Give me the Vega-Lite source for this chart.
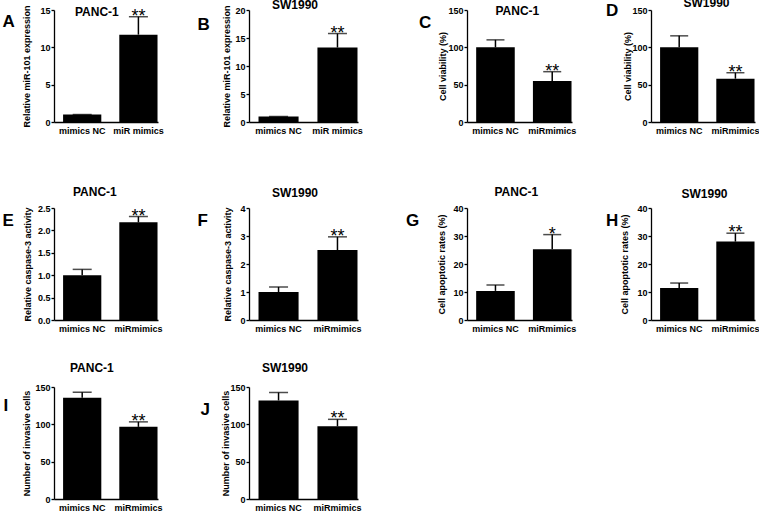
{
  "$schema": "https://vega.github.io/schema/vega-lite/v6.json",
  "background": "white",
  "padding": {"left": 2, "top": -3, "right": 0, "bottom": 0},
  "config": {
    "view": {"stroke": null},
    "font": "Liberation Sans",
    "axis": {"grid": false, "labelOverlap": false, "domainColor": "black", "tickColor": "black", "labelColor": "black", "titleColor": "black", "labelFont": "Liberation Sans", "titleFont": "Liberation Sans", "labelFontWeight": "bold", "labelFontSize": 9, "titleFontWeight": "bold", "titleFontSize": 9, "domainWidth": 1.3, "tickWidth": 1.3},
    "axisX": {"ticks": false, "labelPadding": 4, "labelAngle": 0, "titleAlign": "left", "titleBaseline": "middle", "titleFontSize": 17, "titleAngle": 0},
    "axisY": {"tickSize": 3, "labelPadding": 1, "titleBaseline": "middle", "titleAlign": "center", "labelFlush": false},
    "title": {"anchor": "start", "baseline": "alphabetic", "fontSize": 12, "font": "Liberation Sans", "fontWeight": "bold", "color": "black", "frame": "group"}
  },
  "columns": 4,
  "spacing": {"row": 67, "column": 79},
  "bounds": "flush",
  "align": "each",
  "concat": [
    {
      "width": 116, "height": 112,
      "title": {"text": "PANC-1", "dx": 21, "offset": -14},
      "data": {"values": [{"g": "mimics NC", "v": 1, "e": 1, "s": ""}, {"g": "miR mimics", "v": 11.7, "e": 14.1, "s": "**"}]},
      "encoding": {"x": {"field": "g", "type": "nominal", "sort": null, "scale": {"range": [0, 104], "paddingInner": 0.32, "paddingOuter": 0.085, "align": 0.95}, "axis": {"title": "A", "titleX": -52, "titleY": -101}}},
      "layer": [
        {"mark": {"type": "bar", "color": "black"}, "encoding": {"y": {"field": "v", "type": "quantitative", "scale": {"domain": [0, 15], "nice": false}, "axis": {"values": [0, 5, 10, 15], "format": "d", "tickCount": 20, "labelOverlap": false, "title": "Relative miR-101 expression", "titleX": -28, "titleY": 56}}}},
        {"mark": {"type": "rule", "strokeWidth": 1.5, "color": "black"}, "encoding": {"y": {"field": "v", "type": "quantitative"}, "y2": {"field": "e"}}},
        {"mark": {"type": "tick", "size": 19, "thickness": 1.5, "color": "black"}, "encoding": {"y": {"field": "e", "type": "quantitative"}}},
        {"mark": {"type": "text", "dy": 5, "baseline": "alphabetic", "fontSize": 18, "color": "black"}, "encoding": {"y": {"field": "e", "type": "quantitative"}, "text": {"field": "s"}}}
      ]
    },
    {
      "width": 138.5, "height": 112,
      "title": {"text": "SW1990", "dx": 23, "offset": -7},
      "data": {"values": [{"g": "mimics NC", "v": 1, "e": 1, "s": ""}, {"g": "miR mimics", "v": 13.3, "e": 15.8, "s": "**"}]},
      "encoding": {"x": {"field": "g", "type": "nominal", "sort": null, "scale": {"range": [0, 109], "paddingInner": 0.32, "paddingOuter": 0.085, "align": 0.95}, "axis": {"title": "B", "titleX": -52, "titleY": -97.5}}},
      "layer": [
        {"mark": {"type": "bar", "color": "black"}, "encoding": {"y": {"field": "v", "type": "quantitative", "scale": {"domain": [0, 20], "nice": false}, "axis": {"values": [0, 5, 10, 15, 20], "format": "d", "tickCount": 20, "labelOverlap": false, "title": "Relative miR-101 expression", "titleX": -23, "titleY": 56}}}},
        {"mark": {"type": "rule", "strokeWidth": 1.5, "color": "black"}, "encoding": {"y": {"field": "v", "type": "quantitative"}, "y2": {"field": "e"}}},
        {"mark": {"type": "tick", "size": 19, "thickness": 1.5, "color": "black"}, "encoding": {"y": {"field": "e", "type": "quantitative"}}},
        {"mark": {"type": "text", "dy": 5, "baseline": "alphabetic", "fontSize": 18, "color": "black"}, "encoding": {"y": {"field": "e", "type": "quantitative"}, "text": {"field": "s"}}}
      ]
    },
    {
      "width": 105, "height": 112,
      "title": {"text": "PANC-1", "dx": 28.5, "offset": -11.5},
      "data": {"values": [{"g": "mimics NC", "v": 100, "e": 110, "s": ""}, {"g": "miRmimics", "v": 55, "e": 67.4, "s": "**"}]},
      "encoding": {"x": {"field": "g", "type": "nominal", "sort": null, "scale": {"range": [0, 105], "paddingInner": 0.32, "paddingOuter": 0.085, "align": 0.95}, "axis": {"title": "C", "titleX": -48.5, "titleY": -99.5}}},
      "layer": [
        {"mark": {"type": "bar", "color": "black"}, "encoding": {"y": {"field": "v", "type": "quantitative", "scale": {"domain": [0, 150], "nice": false}, "axis": {"values": [0, 50, 100, 150], "format": "d", "tickCount": 20, "labelOverlap": false, "title": "Cell viability (%)", "titleX": -25, "titleY": 56}}}},
        {"mark": {"type": "rule", "strokeWidth": 1.5, "color": "black"}, "encoding": {"y": {"field": "v", "type": "quantitative"}, "y2": {"field": "e"}}},
        {"mark": {"type": "tick", "size": 18, "thickness": 1.5, "color": "black"}, "encoding": {"y": {"field": "e", "type": "quantitative"}}},
        {"mark": {"type": "text", "dy": 5, "baseline": "alphabetic", "fontSize": 18, "color": "black"}, "encoding": {"y": {"field": "e", "type": "quantitative"}, "text": {"field": "s"}}}
      ]
    },
    {
      "width": 105, "height": 112,
      "title": {"text": "SW1990", "dx": 32.5, "offset": -8.5},
      "data": {"values": [{"g": "mimics NC", "v": 100, "e": 115.4, "s": ""}, {"g": "miRmimics", "v": 58, "e": 66, "s": "**"}]},
      "encoding": {"x": {"field": "g", "type": "nominal", "sort": null, "scale": {"range": [0, 104], "paddingInner": 0.32, "paddingOuter": 0.085, "align": 0.95}, "axis": {"title": "D", "titleX": -45.5, "titleY": -111.5}}},
      "layer": [
        {"mark": {"type": "bar", "color": "black"}, "encoding": {"y": {"field": "v", "type": "quantitative", "scale": {"domain": [0, 150], "nice": false}, "axis": {"values": [0, 50, 100, 150], "format": "d", "tickCount": 20, "labelOverlap": false, "title": "Cell viability (%)", "titleX": -24, "titleY": 56}}}},
        {"mark": {"type": "rule", "strokeWidth": 1.5, "color": "black"}, "encoding": {"y": {"field": "v", "type": "quantitative"}, "y2": {"field": "e"}}},
        {"mark": {"type": "tick", "size": 18, "thickness": 1.5, "color": "black"}, "encoding": {"y": {"field": "e", "type": "quantitative"}}},
        {"mark": {"type": "text", "dy": 5, "baseline": "alphabetic", "fontSize": 18, "color": "black"}, "encoding": {"y": {"field": "e", "type": "quantitative"}, "text": {"field": "s"}}}
      ]
    },
    {
      "width": 116, "height": 131,
      "title": {"text": "PANC-1", "dx": 19, "offset": -9.5},
      "data": {"values": [{"g": "mimics NC", "v": 1.0, "e": 1.13, "s": ""}, {"g": "miRmimics", "v": 2.18, "e": 2.31, "s": "**"}]},
      "encoding": {"x": {"field": "g", "type": "nominal", "sort": null, "scale": {"range": [0, 104], "paddingInner": 0.32, "paddingOuter": 0.085, "align": 0.95}, "axis": {"title": "E", "titleX": -52, "titleY": -99.5}}},
      "layer": [
        {"mark": {"type": "bar", "color": "black"}, "encoding": {"y": {"field": "v", "type": "quantitative", "scale": {"domain": [0, 2.5], "nice": false, "range": [131, 19]}, "axis": {"values": [0, 0.5, 1, 1.5, 2, 2.5], "tickCount": 20, "labelOverlap": false, "format": ".1f", "title": "Relative caspase-3 activity", "titleX": -26.5, "titleY": 75}}}},
        {"mark": {"type": "rule", "strokeWidth": 1.5, "color": "black"}, "encoding": {"y": {"field": "v", "type": "quantitative"}, "y2": {"field": "e"}}},
        {"mark": {"type": "tick", "size": 19, "thickness": 1.5, "color": "black"}, "encoding": {"y": {"field": "e", "type": "quantitative"}}},
        {"mark": {"type": "text", "dy": 5, "baseline": "alphabetic", "fontSize": 18, "color": "black"}, "encoding": {"y": {"field": "e", "type": "quantitative"}, "text": {"field": "s"}}}
      ]
    },
    {
      "width": 138.5, "height": 131,
      "title": {"text": "SW1990", "dx": 23, "offset": -10.5},
      "data": {"values": [{"g": "mimics NC", "v": 1.0, "e": 1.18, "s": ""}, {"g": "miRmimics", "v": 2.5, "e": 2.97, "s": "**"}]},
      "encoding": {"x": {"field": "g", "type": "nominal", "sort": null, "scale": {"range": [0, 109], "paddingInner": 0.32, "paddingOuter": 0.085, "align": 0.95}, "axis": {"title": "F", "titleX": -52, "titleY": -99.5}}},
      "layer": [
        {"mark": {"type": "bar", "color": "black"}, "encoding": {"y": {"field": "v", "type": "quantitative", "scale": {"domain": [0, 4], "nice": false, "range": [131, 19]}, "axis": {"values": [0, 1, 2, 3, 4], "format": "d", "tickCount": 20, "labelOverlap": false, "title": "Relative caspase-3 activity", "titleX": -22, "titleY": 75}}}},
        {"mark": {"type": "rule", "strokeWidth": 1.5, "color": "black"}, "encoding": {"y": {"field": "v", "type": "quantitative"}, "y2": {"field": "e"}}},
        {"mark": {"type": "tick", "size": 19, "thickness": 1.5, "color": "black"}, "encoding": {"y": {"field": "e", "type": "quantitative"}}},
        {"mark": {"type": "text", "dy": 5, "baseline": "alphabetic", "fontSize": 18, "color": "black"}, "encoding": {"y": {"field": "e", "type": "quantitative"}, "text": {"field": "s"}}}
      ]
    },
    {
      "width": 105, "height": 131,
      "title": {"text": "PANC-1", "dx": 27.5, "offset": -10},
      "data": {"values": [{"g": "mimics NC", "v": 10.4, "e": 12.5, "s": ""}, {"g": "miRmimics", "v": 25.3, "e": 30.5, "s": "*"}]},
      "encoding": {"x": {"field": "g", "type": "nominal", "sort": null, "scale": {"range": [0, 105], "paddingInner": 0.32, "paddingOuter": 0.085, "align": 0.95}, "axis": {"title": "G", "titleX": -61.5, "titleY": -99.5}}},
      "layer": [
        {"mark": {"type": "bar", "color": "black"}, "encoding": {"y": {"field": "v", "type": "quantitative", "scale": {"domain": [0, 40], "nice": false, "range": [131, 19]}, "axis": {"values": [0, 10, 20, 30, 40], "format": "d", "tickCount": 20, "labelOverlap": false, "title": "Cell apoptotic rates (%)", "titleX": -25.5, "titleY": 75}}}},
        {"mark": {"type": "rule", "strokeWidth": 1.5, "color": "black"}, "encoding": {"y": {"field": "v", "type": "quantitative"}, "y2": {"field": "e"}}},
        {"mark": {"type": "tick", "size": 18, "thickness": 1.5, "color": "black"}, "encoding": {"y": {"field": "e", "type": "quantitative"}}},
        {"mark": {"type": "text", "dy": 5, "baseline": "alphabetic", "fontSize": 18, "color": "black"}, "encoding": {"y": {"field": "e", "type": "quantitative"}, "text": {"field": "s"}}}
      ]
    },
    {
      "width": 105, "height": 131,
      "title": {"text": "SW1990", "dx": 30.5, "offset": -11.5},
      "data": {"values": [{"g": "mimics NC", "v": 11.4, "e": 13.2, "s": ""}, {"g": "miRmimics", "v": 28, "e": 31, "s": "**"}]},
      "encoding": {"x": {"field": "g", "type": "nominal", "sort": null, "scale": {"range": [0, 104], "paddingInner": 0.32, "paddingOuter": 0.085, "align": 0.95}, "axis": {"title": "H", "titleX": -45.5, "titleY": -100}}},
      "layer": [
        {"mark": {"type": "bar", "color": "black"}, "encoding": {"y": {"field": "v", "type": "quantitative", "scale": {"domain": [0, 40], "nice": false, "range": [131, 19]}, "axis": {"values": [0, 10, 20, 30, 40], "format": "d", "tickCount": 20, "labelOverlap": false, "title": "Cell apoptotic rates (%)", "titleX": -26.5, "titleY": 75}}}},
        {"mark": {"type": "rule", "strokeWidth": 1.5, "color": "black"}, "encoding": {"y": {"field": "v", "type": "quantitative"}, "y2": {"field": "e"}}},
        {"mark": {"type": "tick", "size": 18, "thickness": 1.5, "color": "black"}, "encoding": {"y": {"field": "e", "type": "quantitative"}}},
        {"mark": {"type": "text", "dy": 5, "baseline": "alphabetic", "fontSize": 18, "color": "black"}, "encoding": {"y": {"field": "e", "type": "quantitative"}, "text": {"field": "s"}}}
      ]
    },
    {
      "width": 116, "height": 112,
      "title": {"text": "PANC-1", "dx": 16, "offset": 8},
      "data": {"values": [{"g": "mimics NC", "v": 135.5, "e": 143, "s": ""}, {"g": "miRmimics", "v": 96.6, "e": 103.3, "s": "**"}]},
      "encoding": {"x": {"field": "g", "type": "nominal", "sort": null, "scale": {"range": [0, 104], "paddingInner": 0.32, "paddingOuter": 0.085, "align": 0.95}, "axis": {"title": "I", "titleX": -51, "titleY": -93.5}}},
      "layer": [
        {"mark": {"type": "bar", "color": "black"}, "encoding": {"y": {"field": "v", "type": "quantitative", "scale": {"domain": [0, 150], "nice": false}, "axis": {"values": [0, 50, 100, 150], "format": "d", "tickCount": 20, "labelOverlap": false, "title": "Number of invasive cells", "titleX": -27.5, "titleY": 56}}}},
        {"mark": {"type": "rule", "strokeWidth": 1.5, "color": "black"}, "encoding": {"y": {"field": "v", "type": "quantitative"}, "y2": {"field": "e"}}},
        {"mark": {"type": "tick", "size": 19, "thickness": 1.5, "color": "black"}, "encoding": {"y": {"field": "e", "type": "quantitative"}}},
        {"mark": {"type": "text", "dy": 5, "baseline": "alphabetic", "fontSize": 18, "color": "black"}, "encoding": {"y": {"field": "e", "type": "quantitative"}, "text": {"field": "s"}}}
      ]
    },
    {
      "width": 138.5, "height": 112,
      "title": {"text": "SW1990", "dx": 13, "offset": 8},
      "data": {"values": [{"g": "mimics NC", "v": 132, "e": 142.6, "s": ""}, {"g": "miRmimics", "v": 97.3, "e": 106.7, "s": "**"}]},
      "encoding": {"x": {"field": "g", "type": "nominal", "sort": null, "scale": {"range": [0, 109], "paddingInner": 0.32, "paddingOuter": 0.085, "align": 0.95}, "axis": {"title": "J", "titleX": -49, "titleY": -89.5}}},
      "layer": [
        {"mark": {"type": "bar", "color": "black"}, "encoding": {"y": {"field": "v", "type": "quantitative", "scale": {"domain": [0, 150], "nice": false}, "axis": {"values": [0, 50, 100, 150], "format": "d", "tickCount": 20, "labelOverlap": false, "title": "Number of invasive cells", "titleX": -24, "titleY": 56}}}},
        {"mark": {"type": "rule", "strokeWidth": 1.5, "color": "black"}, "encoding": {"y": {"field": "v", "type": "quantitative"}, "y2": {"field": "e"}}},
        {"mark": {"type": "tick", "size": 19, "thickness": 1.5, "color": "black"}, "encoding": {"y": {"field": "e", "type": "quantitative"}}},
        {"mark": {"type": "text", "dy": 5, "baseline": "alphabetic", "fontSize": 18, "color": "black"}, "encoding": {"y": {"field": "e", "type": "quantitative"}, "text": {"field": "s"}}}
      ]
    }
  ]
}
